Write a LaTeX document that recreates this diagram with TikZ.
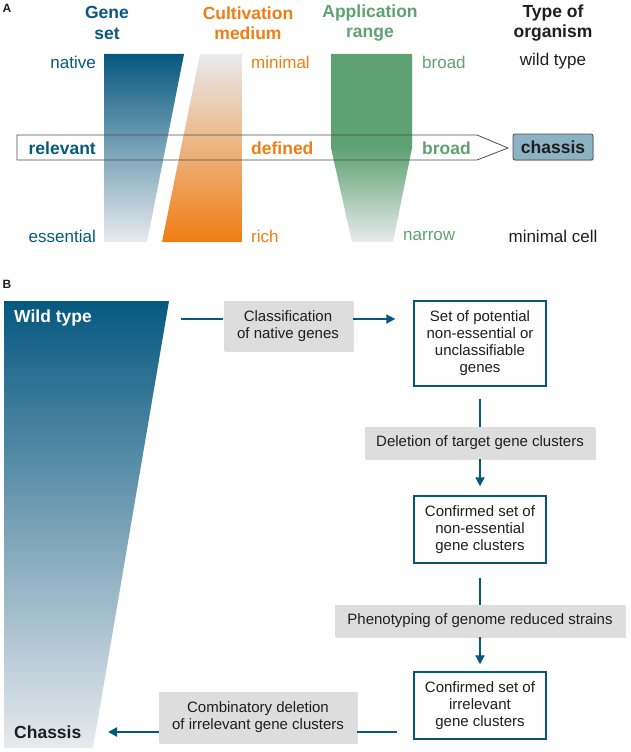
\documentclass[tikz,border=0pt]{standalone}
\usepackage{fontspec}
\setmainfont{Liberation Sans}
\usetikzlibrary{arrows.meta,shadows,positioning}
\definecolor{setblue}{RGB}{6,88,128}
\definecolor{medorange}{RGB}{240,125,18}
\definecolor{appgreen}{RGB}{95,162,114}
\definecolor{fadegray}{RGB}{232,234,237}
\definecolor{boxgray}{RGB}{221,221,221}
\definecolor{chassisfill}{RGB}{140,178,196}
\definecolor{ink}{RGB}{30,30,30}

\begin{document}
\begin{tikzpicture}[x=1pt,y=-1pt,
  lbl/.style={inner sep=0pt,font=\fontsize{17}{20}\selectfont},
  bold/.style={inner sep=0pt,font=\fontsize{17.5}{20.5}\selectfont\bfseries},
  head/.style={bold,align=center},
  panel/.style={inner sep=0pt,font=\fontsize{12}{14}\selectfont\bfseries,text=ink},
  stepbox/.style={draw=setblue,line width=1.4pt,fill=white,align=center,minimum width=132pt,
    font=\fontsize{15}{17}\selectfont,text=ink,
    drop shadow={shadow xshift=1.2pt,shadow yshift=-1.2pt,opacity=.3}},
  task/.style={fill=boxgray,align=center,font=\fontsize{15}{17}\selectfont,text=ink,
    drop shadow={shadow xshift=1.2pt,shadow yshift=-1.2pt,opacity=.25}},
  link/.style={draw=setblue,line width=2pt},
  go/.style={link,-{Triangle[length=9pt,width=9pt]}}]
\useasboundingbox (0,0) rectangle (630,752);

\node[panel] (pa) at (7,8) {A};
\node[head,text=setblue] (geneset) at (107,23) {Gene\\set};
\node[head,text=medorange] (medium) at (248,23) {Cultivation\\medium};
\node[head,text=appgreen] (range) at (370,23) {Application\\range};
\node[head,text=ink] (organism) at (553,23) {Type of\\organism};

\shade[top color=setblue,bottom color=fadegray] (104,54) -- (184,54) -- (147,242) -- (104,242) -- cycle;
\shade[top color=fadegray,bottom color=medorange] (200,54) -- (242,54) -- (242,242) -- (162,242) -- cycle;
\shade[top color=appgreen,bottom color=fadegray,middle color=appgreen] (331,54) -- (412,54) -- (412,148) -- (393,242) -- (352,242) -- (331,148) -- cycle;
\draw[black!70,line width=.8pt] (17,135) -- (477,135) -- (508,148) -- (477,160) -- (17,160) -- cycle;

\node[lbl,anchor=east,text=setblue] (native) at (96,62) {native};
\node[bold,anchor=east,text=setblue] (relevant) at (96,148) {relevant};
\node[lbl,anchor=east,text=setblue] (essential) at (96,236) {essential};
\node[lbl,anchor=west,text=medorange] (minimal) at (251,62) {minimal};
\node[bold,anchor=west,text=medorange] (defined) at (251,148) {defined};
\node[lbl,anchor=west,text=medorange] (rich) at (251,236) {rich};
\node[lbl,anchor=west,text=appgreen] (broad) at (422,62) {broad};
\node[bold,anchor=west,text=appgreen] (broadsel) at (422,148) {broad};
\node[lbl,anchor=west,text=appgreen] (narrow) at (403,236) {narrow};
\node[lbl,text=ink] (wild) at (553,61) {wild type};
\node[lbl,text=ink] (mincell) at (553,236) {minimal cell};
\node[bold,text=ink,draw=black!70,line width=.8pt,fill=chassisfill,rounded corners=2pt,
  minimum width=80pt,minimum height=26pt,
  drop shadow={shadow xshift=1pt,shadow yshift=-1pt,opacity=.3}] (chassis) at (553,147) {chassis};

\node[panel] (pb) at (7,284) {B};
\shade[top color=setblue,bottom color=fadegray] (4,301) -- (169,301) -- (93,748) -- (4,748) -- cycle;
\node[bold,anchor=west,text=white] (wildtype) at (14,318) {Wild type};
\node[bold,anchor=west,text=ink] (chassisB) at (14,732) {Chassis};

\node[task,minimum width=129pt,minimum height=50pt] (classify) at (288,326) {Classification\\of native genes};
\node[stepbox,minimum height=85pt] (pot) at (480,343.5) {Set of potential\\non-essential or\\unclassifiable\\genes};
\node[task,minimum width=230pt,minimum height=32pt] (delete) at (480,443) {Deletion of target gene clusters};
\node[stepbox,minimum height=67pt] (noness) at (480,529.5) {Confirmed set of\\non-essential\\gene clusters};
\node[task,minimum width=290pt,minimum height=32pt] (pheno) at (480,621) {Phenotyping of genome reduced strains};
\node[stepbox,minimum height=67pt] (irrel) at (480,705.5) {Confirmed set of\\irrelevant\\gene clusters};
\node[task,minimum width=198pt,minimum height=51pt] (combi) at (258,717.5) {Combinatory deletion\\of irrelevant gene clusters};

\coordinate (wtout) at (181,319);
\coordinate (irrelout) at (397,732);
\coordinate (chassisin) at (108,732);
\draw[link] (wtout) -- (classify.west |- wtout);
\draw[go,shorten >=18pt] (classify.east |- wtout) -- (pot.west |- wtout);
\draw[link,shorten <=12pt] (pot) -- (delete);
\draw[go,shorten >=9pt] (delete) -- (noness);
\draw[link,shorten <=14pt] (noness) -- (pheno);
\draw[go,shorten >=7pt] (pheno) -- (irrel);
\draw[link] (irrelout) -- (combi.east |- irrelout);
\draw[go] (combi.west |- irrelout) -- (chassisin);
\end{tikzpicture}
\end{document}
